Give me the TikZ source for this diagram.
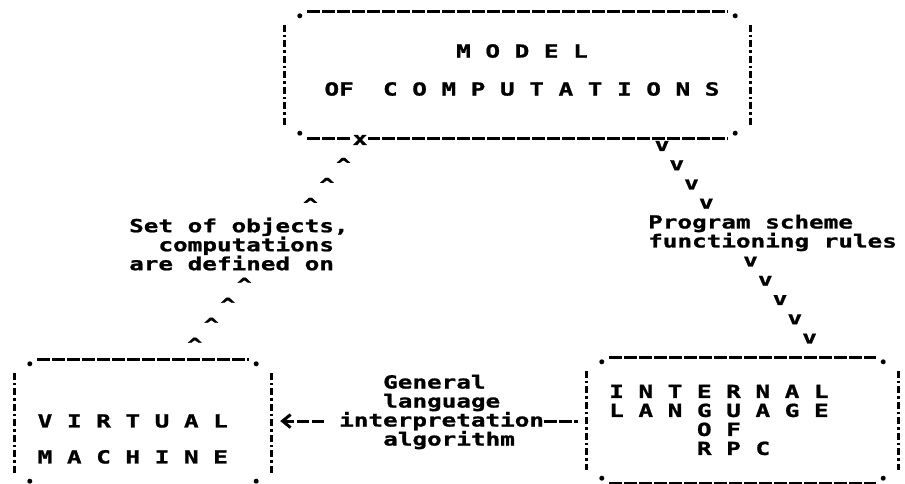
\documentclass[tikz,border=0pt]{standalone}
\usepackage{fontspec}
\newfontfamily\dmfont[FakeStretch=1.35, BoldFeatures={FakeBold=1.2}]{DejaVu Sans Mono}
\usetikzlibrary{calc,arrows.meta}
\tikzset{
  dmtext/.style={font=\dmfont\bfseries\fontsize{18}{19}\selectfont, inner sep=0pt},
  boxarea/.style={inner sep=0pt, draw=none},
  dmline/.style={line width=3pt, dash pattern=on 12.5pt off 2.5pt},
  dmside/.style={line width=2.8pt, dash pattern=on 7pt off 3pt on 2.5pt off 3pt},
  upchev/.style={dmtext, yshift=-4.5pt},
  downchev/.style={dmtext},
}
% printed frame round an (empty) box node
\def\dmframe#1{%
  \draw[dmline] ($(#1.north west)+(22.5,0)$) -- ($(#1.north east)+(-22.5,0)$);
  \draw[dmline] ($(#1.south west)+(22.5,0)$) -- ($(#1.south east)+(-22.5,0)$);
  \draw[dmside] ($(#1.north west)+(0,13)$) -- ($(#1.south west)+(0,-13)$);
  \draw[dmside] ($(#1.north east)+(0,13)$) -- ($(#1.south east)+(0,-13)$);
  \fill ($(#1.north west)+(15,4)$) circle (2.5);
  \fill ($(#1.north east)+(-15,4)$) circle (2.5);
  \fill ($(#1.south west)+(15,-5)$) circle (2.5);
  \fill ($(#1.south east)+(-15,-5)$) circle (2.5);
}

\begin{document}
\begin{tikzpicture}[x=1pt, y=-1pt]
%%%%% START %%%%%

\fill[white] (0,0) rectangle (905,483);
\useasboundingbox (0,0) rectangle (905,483);

\node[boxarea, minimum width=465pt, minimum height=126pt] (model) at (517.5,75) {};
\node[boxarea, minimum width=256pt, minimum height=126pt] (vm) at (143,423) {};
\node[boxarea, minimum width=311pt, minimum height=125pt] (ilang) at (742.5,420.5) {};
\dmframe{model}
\dmframe{vm}
\dmframe{ilang}

\node[dmtext, align=center] (modeltxt) at (522,70) {M O D E L\\[19pt]OF~~C O M P U T A T I O N S};
\node[dmtext, align=left, anchor=west] (vmtxt) at (37.5,439) {V I R T U A L\\[17pt]M A C H I N E};
\node[dmtext, align=left, anchor=west] (iltxt) at (609,420) {I N T E R N A L\\L A N G U A G E\\~~~~~~O F\\~~~~~~R P C};

% marks on the border of the top box
\node[dmtext, fill=white, inner sep=0.5pt] (xm) at (360,140) {x};
\node[downchev] (um) at (662,146) {v};
\coordinate (vmtop) at ($(vm.north west)+(163.5,0)$);
\coordinate (iltop) at ($(ilang.north west)+(237.5,0)$);

\node[dmtext, align=left, anchor=west] (setlbl) at (129,244) {Set of objects,\\~~computations\\are defined on};
\node[dmtext, align=left, anchor=west] (proglbl) at (648,233) {Program scheme\\functioning rules};

\foreach \i in {1,2,3,7,8,9,10}
  \node[upchev] at ($(xm)!\i/11!(vmtop)$) {\textasciicircum};
\foreach \i in {1,2,3,6,7,8,9,10}
  \node[downchev] at ($(um)!\i/11!(iltop)$) {v};

\node[dmtext, anchor=base west] (interp) at (339,426.5) {interpretation};
\node[dmtext, anchor=base west] (general) at ($(interp.base west)+(44,-38)$) {General};
\node[dmtext, anchor=base west] (language) at ($(interp.base west)+(44,-19)$) {language};
\node[dmtext, anchor=base west] (algo) at ($(interp.base west)+(44,19)$) {algorithm};
\draw[dmline, -{Straight Barb[length=8pt,width=13pt]}] ($(interp.west)+(-15,0)$) -- ($(vm.east |- interp.west)+(9,0)$);
\draw[dmline] (interp.east) -- ($(ilang.west |- interp.east)+(-9,0)$);

%%%%% END %%%%%
\end{tikzpicture}
\end{document}
